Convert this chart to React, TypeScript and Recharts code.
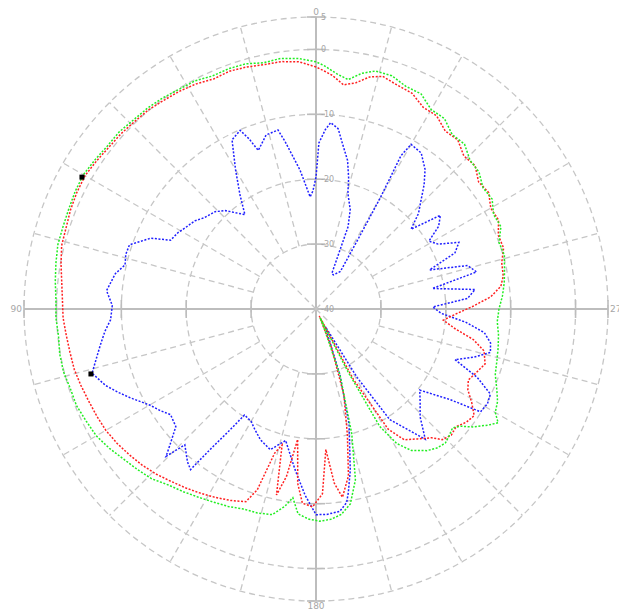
import React from 'react';
import { RadarChart, Radar, PolarGrid, PolarAngleAxis, PolarRadiusAxis } from 'recharts';

// Angles in degrees (0 at top, counter-clockwise), levels in dB.
const greenTrace: [number, number][] = [
  [0, -1.9], [4, -1.3], [8, -1.0], [12, -1.2], [16, -0.7], [20, -0.6], [24, -0.7], [28, -0.2],
  [32, -0.1], [36, 0.2], [40, 0.4], [44, 0.5], [48, 0.8], [52, 0.8], [56, 1.1], [60, 1.4],
  [64, 1.3], [68, 1.1], [72, 1.0], [76, 1.0], [80, 0.7], [84, 0.4], [88, 0.1], [92, 0.1],
  [96, -0.1], [100, 0.1], [104, 0.1], [108, -0.2], [112, -0.2], [116, -0.6], [120, -0.9],
  [124, -1.6], [128, -2.4], [132, -3.0], [136, -3.6], [140, -4.6], [144, -5.2], [148, -5.8],
  [152, -6.3], [156, -6.7], [160, -7.2], [164, -7.3], [168, -7.6], [171, -9.2], [173, -10.7],
  [175, -8.3], [178, -7.6], [181, -7.3], [184, -7.5], [187, -8.1], [190, -9.5], [193, -13.0],
  [196, -20.0], [200, -29.2], [203, -36.9], [205, -38.5], [207, -29.2], [208.5, -19.4],
  [211, -15.8], [214, -13.7], [218, -12.3], [221, -11.6], [224, -11.3], [226, -11.6],
  [229, -12.1], [231, -11.3], [233, -9.8], [236, -8.0], [238, -6.9], [240, -8.1], [243, -8.6],
  [246, -9.5], [250, -10.6], [254, -11.0], [258, -11.3], [262, -11.6], [266, -12.0],
  [270, -11.8], [274, -11.2], [278, -10.7], [282, -10.3], [286, -9.8], [290, -10.0],
  [294, -8.8], [298, -9.0], [302, -8.0], [306, -8.2], [310, -7.2], [314, -7.0], [318, -5.8],
  [322, -5.9], [326, -4.6], [330, -4.5], [334, -3.1], [338, -3.0], [342, -2.2], [346, -2.2],
  [349, -3.0], [352, -4.3], [355, -3.6], [358, -2.5],
];

const redTrace: [number, number][] = [
  [0, -2.7], [4, -1.8], [8, -1.5], [12, -1.5], [16, -1.2], [20, -1.0], [24, -1.2], [28, -0.7],
  [32, -0.4], [36, -0.2], [40, 0.1], [44, 0.2], [48, 0.4], [52, 0.5], [56, 0.8], [60, 1.1],
  [64, 1.0], [68, 0.8], [72, 0.5], [76, 0.4], [80, -0.1], [84, -0.6], [88, -0.9], [92, -1.0],
  [96, -1.3], [100, -1.5], [104, -1.6], [108, -1.9], [112, -2.2], [116, -2.4], [120, -2.6],
  [124, -3.0], [128, -3.5], [132, -4.0], [136, -4.6], [140, -5.3], [144, -5.9], [148, -6.5],
  [152, -7.1], [156, -7.7], [160, -8.4], [162, -10.7], [164, -16.9], [166, -18.4],
  [168, -10.7], [170, -13.8], [172, -19.7], [174, -13.0], [176, -10.0], [179, -9.5],
  [182, -11.5], [184, -18.3], [186, -13.0], [188, -10.7], [191, -13.8], [194, -20.0],
  [198, -26.1], [202, -33.8], [205, -38.8], [208, -27.7], [211, -18.4], [214, -15.7],
  [218, -14.6], [222, -13.3], [224, -12.0], [227, -11.5], [230, -11.8], [233, -11.0],
  [236, -10.6], [239, -12.0], [242, -13.5], [245, -14.1], [248, -13.5], [252, -12.6],
  [256, -13.3], [259, -15.3], [262, -18.4], [265, -20.3], [268, -18.4], [271, -15.8],
  [274, -13.0], [277, -11.3], [280, -10.7], [284, -10.5], [288, -9.6], [292, -9.7],
  [296, -8.7], [300, -8.9], [304, -7.9], [308, -8.2], [312, -7.0], [316, -7.2], [320, -6.0],
  [324, -6.1], [328, -4.9], [332, -4.8], [336, -3.6], [340, -3.3], [344, -2.7], [347, -3.3],
  [350, -4.6], [353, -5.2], [356, -3.9], [358, -3.3],
];

const blueTrace: [number, number][] = [
  [0, -19.7], [1.5, -21.8], [3, -22.7], [6.6, -18.4], [10.5, -13.7], [12, -11.8], [16, -12.1],
  [20, -14.0], [21.5, -11.8], [23, -10.1], [26.4, -10.9], [30, -15.2], [33.7, -18.9],
  [37, -21.8], [42.6, -19.4], [46, -18.4], [50.6, -17.8], [54, -16.9], [58, -16.3],
  [61, -15.7], [64.7, -15.2], [66.8, -12.3], [71, -9.6], [74, -9.5], [77, -9.8], [80, -8.6],
  [85, -7.6], [89, -8.6], [93, -8.3], [96, -7.3], [99.5, -6.3], [103, -5.2], [106, -4.1],
  [110, -5.5], [113, -7.0], [115.6, -8.3], [120, -10.4], [123, -11.3], [126, -12.3],
  [130, -11.8], [133, -9.2], [134.5, -7.6], [136, -10.9], [140, -9.2], [142, -8.6],
  [143, -12.9], [144.6, -17.2], [146, -20.3], [150, -20.0], [153, -19.2], [157, -18.1],
  [162, -17.2], [167, -19.2], [172.6, -15.0], [176.6, -11.3], [180, -8.3], [183, -8.3],
  [186.7, -8.6], [189, -9.8], [190, -11.3], [192, -14.6], [196, -21.5], [200, -29.2],
  [204, -35.4], [208, -36.9], [211, -27.7], [213.7, -19.5], [217, -16.9], [220, -13.8],
  [224, -16.9], [228, -18.4], [232, -19.7], [236, -15.0], [238, -10.1], [241, -9.8],
  [244, -10.1], [247, -13.0], [250, -17.2], [253, -14.6], [256, -12.3], [259, -12.6],
  [262, -13.8], [265, -16.9], [268, -20.7], [271, -22.0], [274, -16.6], [277, -15.3],
  [280, -21.8], [283, -14.6], [286, -15.7], [289, -21.5], [292, -16.9], [295, -15.7],
  [298, -18.7], [301, -19.7], [304, -17.2], [307, -16.0], [310, -20.9], [313, -18.4],
  [316, -16.7], [319, -14.6], [322, -12.7], [326, -11.0], [330, -10.7], [331, -13.0],
  [330, -20.0], [329, -27.1], [327, -33.1], [333, -34.1], [336, -34.0], [338.7, -26.4],
  [341, -23.8], [344.6, -21.5], [346, -19.2], [348, -16.6], [351, -14.1], [353, -12.0],
  [355.5, -11.2], [357, -12.3], [359, -14.4],
];

const markerTrace: [number, number][] = [[60.6, 1.4], [106.1, -3.9]];

const dbTicks = [-40, -30, -20, -10, 0, 5];
const compassTicks = [0, 90, 180, 270];
const diagonalTicks = [45, 135, 225, 315];
const spokeTicks = [15, 30, 60, 75, 105, 120, 150, 165, 195, 210, 240, 255, 285, 300, 330, 345];

const W = 620;
const H = 607;
const geometry = {
  cx: 308,
  cy: 301,
  outerRadius: 292,
  startAngle: 90,
  endAngle: 450,
  margin: { top: 0, right: 0, bottom: 0, left: 0 },
};

const GRID = '#c6c6c6';
const AXIS = '#bdbdbd';
const LABEL = '#a6a6a6';
const FONT = 'DejaVu Sans, sans-serif';

const rows = (trace: [number, number][]) => trace.map(([a, v]) => ({ a, v }));

function Layer({ data, innerRadius = 0, children }: { data: any[]; innerRadius?: number; children: React.ReactNode }) {
  return (
    <div style={{ position: 'absolute', left: 0, top: 0 }}>
      <RadarChart width={W} height={H} data={data} innerRadius={innerRadius} {...geometry}>
        {children}
      </RadarChart>
    </div>
  );
}

const hiddenAngleAxis = (ticks?: number[]) => (
  <PolarAngleAxis dataKey="a" type="number" domain={[0, 360]} ticks={ticks} tick={false} tickLine={false} axisLine={false} />
);

const hiddenRadiusAxis = (
  <PolarRadiusAxis domain={[-40, 5]} allowDataOverflow type="number" tick={false} tickLine={false} axisLine={false} />
);

// Tick mark crossing a solid axis; the upward axis also carries the dB labels.
const crossTick = (horizontal: boolean, labelled: boolean) => (props: any) => {
  const { x, y, payload } = props;
  return (
    <g>
      {horizontal ? (
        <line x1={x - 9} y1={y} x2={x + 9} y2={y} stroke={AXIS} strokeWidth={1.6} />
      ) : (
        <line x1={x} y1={y - 9} x2={x} y2={y + 9} stroke={AXIS} strokeWidth={1.6} />
      )}
      {labelled && (
        <text x={x + 5} y={y + 3} fontSize={8} fill={LABEL} fontFamily={FONT}>
          {payload.value}
        </text>
      )}
    </g>
  );
};

const solidAxis = (id: string, angle: number, horizontalTicks: boolean, labelled: boolean) => (
  <PolarRadiusAxis
    radiusAxisId={id}
    angle={angle}
    domain={[-40, 5]}
    allowDataOverflow
    type="number"
    ticks={dbTicks}
    tickLine={false}
    axisLine={{ stroke: AXIS, strokeWidth: 2 }}
    tick={crossTick(horizontalTicks, labelled)}
  />
);

const squareDot = (props: any) => {
  const { cx, cy, key } = props;
  return <rect key={key} x={cx - 2.5} y={cy - 2.5} width={5} height={5} fill="#000" />;
};

const traceProps = {
  dataKey: 'v',
  fill: 'none',
  fillOpacity: 0,
  strokeWidth: 1.5,
  strokeDasharray: '2 1.6',
  dot: false,
  isAnimationActive: false,
};

export default function App() {
  const base = rows(markerTrace);
  return (
    <div style={{ position: 'relative', width: W, height: H }}>
      {/* concentric dB rings, solid axes and labels */}
      <Layer data={base}>
        <PolarGrid gridType="circle" radialLines={false} radiusAxisId="up" stroke={GRID} strokeWidth={1.3} strokeDasharray="6 4" />
        <PolarAngleAxis
          dataKey="a"
          type="number"
          domain={[0, 360]}
          ticks={compassTicks}
          tickLine={false}
          axisLine={false}
          tickSize={2}
          tick={{ fill: LABEL, fontSize: 9, fontFamily: FONT }}
        />
        {solidAxis('right', 0, false, false)}
        {solidAxis('left', 180, false, false)}
        {solidAxis('down', 270, true, false)}
        {solidAxis('up', 90, true, true)}
      </Layer>

      {/* diagonals through the centre */}
      <Layer data={base}>
        <PolarGrid gridType="circle" polarRadius={[]} radialLines stroke={GRID} strokeWidth={1.3} strokeDasharray="6 4" />
        {hiddenAngleAxis(diagonalTicks)}
        {hiddenRadiusAxis}
      </Layer>

      {/* 15-degree spokes outside the first ring */}
      <Layer data={base} innerRadius={65}>
        <PolarGrid gridType="circle" polarRadius={[]} radialLines stroke={GRID} strokeWidth={1.3} strokeDasharray="6 4" />
        {hiddenAngleAxis(spokeTicks)}
        {hiddenRadiusAxis}
      </Layer>

      <Layer data={rows(blueTrace)}>
        {hiddenAngleAxis()}
        {hiddenRadiusAxis}
        <Radar {...traceProps} stroke="#1f1fff" />
      </Layer>

      <Layer data={rows(redTrace)}>
        {hiddenAngleAxis()}
        {hiddenRadiusAxis}
        <Radar {...traceProps} stroke="#ff2020" />
      </Layer>

      <Layer data={rows(greenTrace)}>
        {hiddenAngleAxis()}
        {hiddenRadiusAxis}
        <Radar {...traceProps} stroke="#22ee22" />
      </Layer>

      <Layer data={base}>
        {hiddenAngleAxis()}
        {hiddenRadiusAxis}
        <Radar dataKey="v" stroke="none" fill="none" dot={squareDot} isAnimationActive={false} />
      </Layer>
    </div>
  );
}
